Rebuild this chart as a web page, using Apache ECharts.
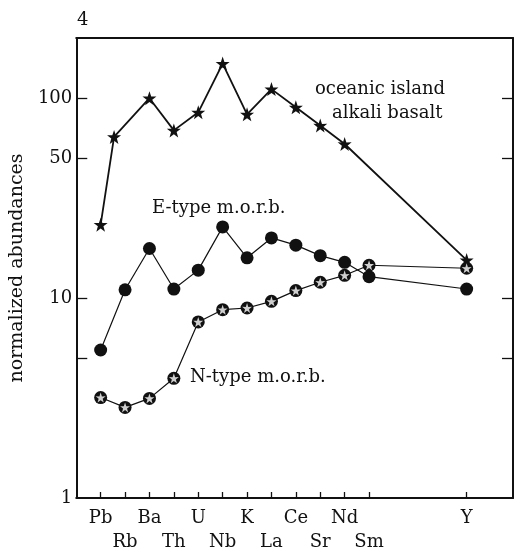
<!DOCTYPE html>
<html>
<head>
<meta charset="utf-8">
<script src="https://cdn.jsdelivr.net/npm/echarts@6/dist/echarts.min.js"></script>
<style>
html,body{margin:0;padding:0;background:#fff;}
#chart{width:515px;height:554px;}
</style>
</head>
<body>
<div id="chart"></div>
<script>
// ---- data ----
const elements = ['Pb','Rb','Ba','Th','U','Nb','K','La','Ce','Sr','Nd','Sm','Y'];
const elementX = [0,1,2,3,4,5,6,7,8,9,10,11,15];
const labelRow = [0,1,0,1,0,1,0,1,0,1,0,1,0];
// oceanic island alkali basalt (no Sm value; Rb star drawn slightly left of its tick)
const oibX = [0,0.55,2,3,4,5,6,7,8,9,10,15];
const oibValues = [23.3,64,100,69,85,149,83,111,90,73,59,15.5];
// E-type m.o.r.b.
const eTypeValues = [5.5,11.0,17.7,11.1,13.8,22.7,15.9,20.0,18.4,16.3,15.1,12.8,11.1];
// N-type m.o.r.b.
const nTypeValues = [3.18,2.84,3.15,3.97,7.6,8.75,8.92,9.63,10.9,12.0,13.0,14.6,14.1];
const yTickValues = [5,10,50,100];
const yLabelValues = [1,10,50,100];

const FONT = 'DejaVu Serif';
const INK = '#111';
const STAR = 'path://M50,0 L61.8,35.1 L97.6,34.5 L69,56 L79.4,90.5 L50,70 L20.6,90.5 L31,56 L2.4,34.5 L38.2,35.1 Z';

const chart = echarts.init(document.getElementById('chart'), null, {renderer: 'canvas'});
const xMin = -1, xMax = 16.9;

const option = {
  backgroundColor: '#fff',
  animation: false,
  grid: {left: 75, right: 2, top: 38, bottom: 52, containLabel: false},
  xAxis: [{
    type: 'value', min: xMin, max: xMax, position: 'bottom',
    splitLine: {show: false},
    axisLine: {show: true, onZero: false, lineStyle: {color: INK, width: 2}},
    axisTick: {show: true, inside: true, length: 6, customValues: elementX, lineStyle: {color: INK, width: 1.3}},
    axisLabel: {
      show: true, customValues: elementX, margin: 8,
      fontFamily: FONT, fontSize: 18, color: INK, lineHeight: 24,
      formatter: function (v) {
        const i = elementX.indexOf(v);
        if (i < 0) return '';
        return labelRow[i] ? '\n' + elements[i] : elements[i];
      }
    }
  }, {
    type: 'value', min: xMin, max: xMax, position: 'top',
    splitLine: {show: false},
    axisLine: {show: true, onZero: false, lineStyle: {color: INK, width: 2}},
    axisTick: {show: false}, axisLabel: {show: false}
  }],
  yAxis: [{
    type: 'log', logBase: 10, min: 1, max: 200, position: 'left',
    name: 'normalized abundances', nameLocation: 'middle', nameRotate: 90, nameGap: 46,
    nameTextStyle: {fontFamily: FONT, fontSize: 19, color: INK},
    splitLine: {show: false}, minorTick: {show: false},
    axisLine: {show: true, onZero: false, lineStyle: {color: INK, width: 2}},
    axisTick: {show: true, inside: true, length: 11, customValues: yTickValues, lineStyle: {color: INK, width: 1.3}},
    axisLabel: {show: true, customValues: yLabelValues, margin: 4, fontFamily: FONT, fontSize: 18, color: INK}
  }, {
    type: 'log', logBase: 10, min: 1, max: 200, position: 'right',
    splitLine: {show: false},
    axisLine: {show: true, onZero: false, lineStyle: {color: INK, width: 2}},
    axisTick: {show: true, inside: true, length: 11, customValues: yTickValues, lineStyle: {color: INK, width: 1.3}},
    axisLabel: {show: false}
  }],
  series: [{
    name: 'oceanic island alkali basalt', type: 'line', z: 2,
    data: oibX.map((x, i) => [x, oibValues[i]]),
    symbol: STAR, symbolSize: 14, showAllSymbol: true,
    itemStyle: {color: INK}, lineStyle: {color: INK, width: 1.8}
  }, {
    name: 'E-type m.o.r.b.', type: 'line', z: 3,
    data: elementX.map((x, i) => [x, eTypeValues[i]]),
    symbol: 'circle', symbolSize: 13, showAllSymbol: true,
    itemStyle: {color: INK}, lineStyle: {color: INK, width: 1.2}
  }, {
    name: 'N-type m.o.r.b.', type: 'line', z: 4,
    data: elementX.map((x, i) => [x, nTypeValues[i]]),
    symbol: 'circle', symbolSize: 13, showAllSymbol: true,
    itemStyle: {color: INK}, lineStyle: {color: INK, width: 1.2}
  }, {
    name: 'N-type stars', type: 'scatter', z: 5,
    data: elementX.map((x, i) => [x, nTypeValues[i]]),
    symbol: STAR, symbolSize: 10,
    itemStyle: {color: '#fff'}
  }],
  graphic: [
    {type: 'text', left: 77, top: 11, style: {text: '4', fontFamily: FONT, fontSize: 18, fill: INK}},
    {type: 'text', x: 315, y: 89, style: {text: 'oceanic island', align: 'left', verticalAlign: 'middle', fontFamily: FONT, fontSize: 18, fill: INK}},
    {type: 'text', x: 332, y: 113, style: {text: 'alkali basalt', align: 'left', verticalAlign: 'middle', fontFamily: FONT, fontSize: 18, fill: INK}},
    {type: 'text', x: 152, y: 208, style: {text: 'E-type m.o.r.b.', align: 'left', verticalAlign: 'middle', fontFamily: FONT, fontSize: 18, fill: INK}},
    {type: 'text', x: 190, y: 377, style: {text: 'N-type m.o.r.b.', align: 'left', verticalAlign: 'middle', fontFamily: FONT, fontSize: 18, fill: INK}}
  ]
};
chart.setOption(option);
</script>
</body>
</html>
